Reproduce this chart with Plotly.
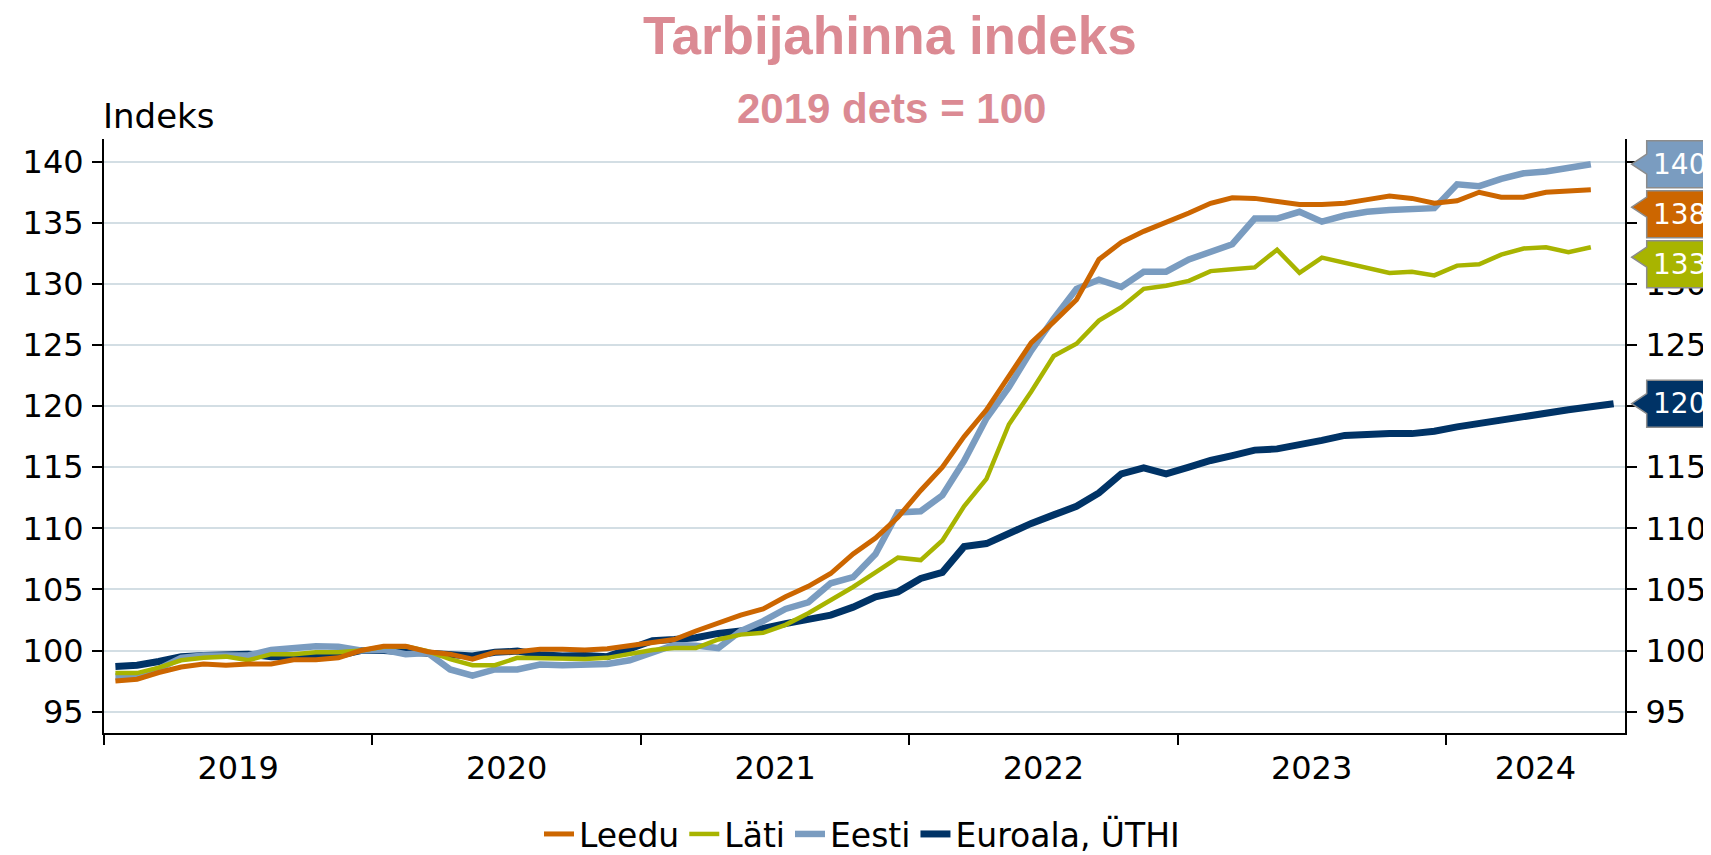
import pandas as pd
import plotly.graph_objects as go

# ---------------- data (monthly, Jan 2019 onwards; 2019 Dec = 100) ----------------
series_names = ["Leedu", "Läti", "Eesti", "Euroala, ÜTHI"]
start_month = "2019-01-01"

leedu = [97.5, 97.65, 98.2, 98.65, 98.9, 98.8, 98.9, 98.9, 99.25, 99.25, 99.4, 100.0,
         100.35, 100.35, 99.9, 99.7, 99.3, 99.85, 99.9, 100.1, 100.1, 100.05, 100.15, 100.4,
         100.65, 100.9, 101.6, 102.3, 102.9, 103.4, 104.4, 105.25, 106.3, 107.9, 109.2, 110.9,
         113.1, 115.0, 117.5, 119.7, 122.4, 125.2, 126.9, 128.7, 132.0, 133.4, 134.3, 135.0,
         135.8, 136.6, 137.05, 137.0, 136.8, 136.5, 136.5, 136.6, 136.9, 137.2, 137.0, 136.6,
         136.8, 137.5, 137.1, 137.1, 137.5, 137.6, 137.7]

lati = [98.15, 98.15, 98.6, 99.2, 99.4, 99.5, 99.2, 99.7, 99.7, 99.85, 99.85, 100.0,
        100.3, 100.35, 99.95, 99.3, 98.8, 98.8, 99.4, 99.35, 99.3, 99.3, 99.4, 99.75,
        100.05, 100.2, 100.2, 100.9, 101.3, 101.45, 102.1, 103.05, 104.1, 105.2, 106.4, 107.6,
        107.4, 109.0, 111.8, 114.05, 118.5, 121.2, 124.1, 125.1, 127.0, 128.1, 129.6, 129.85,
        130.25, 131.05, 131.2, 131.35, 132.8, 130.9, 132.15, 131.7, 131.3, 130.9, 131.0, 130.7,
        131.5, 131.6, 132.4, 132.9, 133.0, 132.6, 133.0]

eesti = [97.9, 97.9, 98.5, 99.4, 99.6, 99.6, 99.6, 100.05, 100.15, 100.35, 100.3, 100.0,
         100.05, 99.7, 99.8, 98.45, 97.95, 98.45, 98.45, 98.85, 98.8, 98.8, 98.9, 99.2,
         99.9, 100.45, 100.4, 100.2, 101.6, 102.4, 103.4, 103.95, 105.5, 106.0, 107.9, 111.3,
         111.4, 112.7, 115.5, 119.0, 121.55, 124.55, 127.15, 129.6, 130.35, 129.75, 131.0, 131.0,
         132.0, 132.6, 133.25, 135.35, 135.35, 135.9, 135.1, 135.6, 135.9, 136.05, 136.1, 136.2,
         138.15, 138.0, 138.6, 139.05, 139.2, 139.5, 139.8]

euroala = [98.7, 98.8, 99.1, 99.5, 99.6, 99.7, 99.7, 99.5, 99.45, 99.5, 99.6, 100.0,
           100.0, 99.9, 99.8, 99.7, 99.55, 99.85, 99.95, 99.65, 99.55, 99.6, 99.5, 100.15,
           100.8, 100.9, 101.05, 101.4, 101.55, 101.8, 102.2, 102.6, 102.9, 103.55, 104.4, 104.8,
           105.9, 106.4, 108.5, 108.75, 109.6, 110.4, 111.1, 111.8, 112.9, 114.45, 114.95, 114.45,
           115.0, 115.55, 115.95, 116.4, 116.5, 116.8, 117.2, 117.6, 117.7, 117.75, 117.75, 117.95,
           118.3, 118.6, 118.8, 119.2, 119.45, 119.7, 119.95, 120.2]

year_labels = ["2019", "2020", "2021", "2022", "2023", "2024"]
y_ticks = [95, 100, 105, 110, 115, 120, 125, 130, 135, 140]

# ---------------- styling ----------------
colors = {"Leedu": "#CC6600", "Läti": "#A8B400", "Eesti": "#7A9CC0", "Euroala, ÜTHI": "#003366"}
widths = {"Leedu": 5, "Läti": 4.5, "Eesti": 6.5, "Euroala, ÜTHI": 7}
TXT = "DejaVu Sans, Verdana, sans-serif"
TITLE_C = "#DB8A93"

# the page body has an 8px margin: the figure's top-left sits at page (8, 8)
OFF = 8
W, H = 1711 - OFF, 855 - OFF
ML, MR, MT, MB = 104 - OFF, 86, 139 - OFF, 122
x_range = ["2019-01-01", "2024-09-01"]
y_range = [93.25, 141.86]

# dates at the middle of each month
n_max = len(euroala)
m_start = pd.date_range(start_month, periods=n_max + 1, freq="MS")
mid = [m_start[i] + (m_start[i + 1] - m_start[i]) / 2 for i in range(n_max)]

data = {"Leedu": leedu, "Läti": lati, "Eesti": eesti, "Euroala, ÜTHI": euroala}

fig = go.Figure()
for name in reversed(series_names):
    vals = data[name]
    fig.add_trace(go.Scatter(
        x=mid[:len(vals)], y=vals, name=name, mode="lines",
        line=dict(color=colors[name], width=widths[name]),
    ))
# invisible trace to carry the right axis
fig.add_trace(go.Scatter(x=mid[:len(euroala)], y=euroala, yaxis="y2", mode="lines",
                         line=dict(width=0, color="rgba(0,0,0,0)"), showlegend=False,
                         hoverinfo="skip"))

# year ticks (boundaries) and label positions (centre of visible part of each year)
yr_starts = [pd.Timestamp(f"{y}-01-01") for y in year_labels]
x_end = pd.Timestamp(x_range[1])
yr_mid = [s + (min(pd.Timestamp(f"{int(y)+1}-01-01"), x_end) - s) / 2
          for s, y in zip(yr_starts, year_labels)]

pw = W - ML - MR
ph = H - MT - MB


def xp(px):
    """page pixel x -> paper x"""
    return (px - OFF - ML) / pw


def yp(py):
    """page pixel y -> paper y"""
    return (H - MB - (py - OFF)) / ph


def val_to_py(v):
    """data value -> page pixel y"""
    return OFF + H - MB - (v - y_range[0]) / (y_range[1] - y_range[0]) * ph


axis_font = dict(family=TXT, size=32, color="black")

fig.update_layout(
    width=W, height=H,
    margin=dict(l=ML, r=MR, t=MT, b=MB, autoexpand=False),
    paper_bgcolor="white", plot_bgcolor="white",
    showlegend=True,
    legend=dict(orientation="h", x=xp(862), xanchor="center", yref="container",
                y=1 - (834 - OFF) / H, yanchor="middle",
                font=dict(family=TXT, size=33, color="black"),
                traceorder="reversed", itemwidth=30, bgcolor="rgba(0,0,0,0)"),
    xaxis=dict(type="date", range=x_range, showgrid=False, zeroline=False,
               showline=True, linecolor="black", linewidth=2,
               tickmode="array", tickvals=yr_mid, ticktext=year_labels, ticks="",
               tickfont=axis_font, ticklabelstandoff=6,
               minor=dict(tickmode="array", tickvals=yr_starts, ticks="outside", ticklen=10,
                          tickwidth=2, tickcolor="black", showgrid=False)),
    yaxis=dict(range=y_range, tickmode="array", tickvals=y_ticks, showgrid=True,
               gridcolor="#D3DEE4", gridwidth=2, zeroline=False, showline=True,
               linecolor="black", linewidth=2, ticks="outside", ticklen=10, tickwidth=2,
               tickcolor="black", tickfont=axis_font, ticklabelstandoff=2),
    yaxis2=dict(range=y_range, overlaying="y", side="right", tickmode="array",
                tickvals=y_ticks, showgrid=False, zeroline=False, showline=True,
                linecolor="black", linewidth=2, ticks="outside", ticklen=10, tickwidth=2,
                tickcolor="black", tickfont=axis_font, ticklabelstandoff=2),
)

# titles
fig.add_annotation(text="<b>Tarbijahinna indeks</b>", xref="paper", yref="paper",
                   x=xp(890), y=yp(36), xanchor="center", yanchor="middle", showarrow=False,
                   font=dict(family="Liberation Sans, Arial, sans-serif", size=53, color=TITLE_C))
fig.add_annotation(text="<b>2019 dets = 100</b>", xref="paper", yref="paper",
                   x=xp(891), y=yp(108.5), xanchor="center", yanchor="middle", showarrow=False,
                   font=dict(family="Liberation Sans, Arial, sans-serif", size=42, color=TITLE_C))
fig.add_annotation(text="Indeks", xref="paper", yref="paper",
                   x=xp(101), y=yp(115.5), xanchor="left", yanchor="middle", showarrow=False,
                   font=dict(family=TXT, size=34, color="black"))

# end-value callouts on the right axis
BOX_H, GAP, HALF_BASE = 47.0, 3.0, 10.0
tip_x, box_x, far_x = 1631.7, 1646.7, 1740
order = sorted(series_names, key=lambda n: val_to_py(data[n][-1]))
prev = None
for name in order:
    v = data[name][-1]
    want = val_to_py(v)
    c = want if prev is None else max(want, prev + BOX_H + GAP)
    prev = c
    top, bot = c - BOX_H / 2, c + BOX_H / 2
    tip = min(max(want, top + 16.5), bot - 16.5)
    pts = [(tip_x, tip), (box_x, tip - HALF_BASE), (box_x, top), (far_x, top),
           (far_x, bot), (box_x, bot), (box_x, tip + HALF_BASE)]
    path = "M " + " L ".join(f"{xp(a):.5f},{yp(b):.5f}" for a, b in pts) + " Z"
    fig.add_shape(type="path", path=path, xref="paper", yref="paper",
                  fillcolor=colors[name], line=dict(color="#8C8C8C", width=1.5), layer="above")
    fig.add_annotation(text=f"{round(v)}", xref="paper", yref="paper", x=xp(1651), y=yp(c),
                       xanchor="left", yanchor="middle", showarrow=False,
                       font=dict(family=TXT, size=28, color="white"))

fig.write_html("out.html")
